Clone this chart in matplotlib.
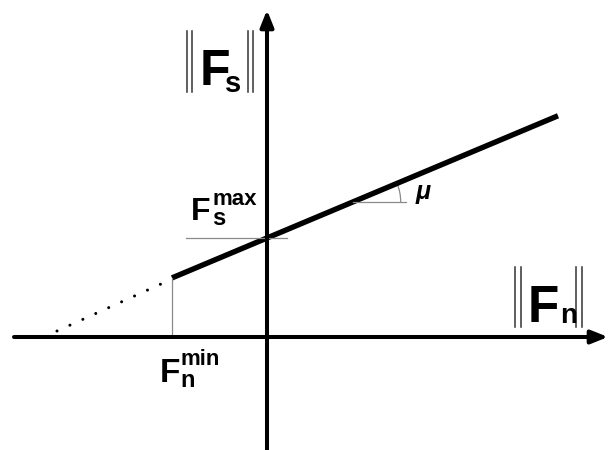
import numpy as np
import matplotlib.pyplot as plt
from matplotlib.patches import Arc

plt.rcParams['font.family'] = ['Liberation Sans', 'DejaVu Sans']
plt.rcParams['lines.scale_dashes'] = False

# friction law: |Fs| = Fs_max + mu * |Fn|, valid for |Fn| >= Fn_min
fs_max = 99
mu = 0.42
fn_min = -95
fn_end = 291
fn_line = [fn_min, fn_end]
fs_line = [fs_max + mu * v for v in fn_line]
# dotted continuation below Fn_min
fn_dots = [-210, -106]
fs_dots = [6, 53]

fig = plt.figure(figsize=(6.08, 4.5), dpi=100)
ax = fig.add_axes([0, 0, 1, 1])
ax.set_xlim(-267, 341)
ax.set_ylim(-113, 337)
ax.axis('off')

arrow = dict(arrowstyle='-|>,head_length=0.5,head_width=0.2', lw=2.9,
             color='black', mutation_scale=20, shrinkA=0, shrinkB=0)
ax.annotate('', xy=(341, 0), xytext=(-253, 0), arrowprops=arrow)
ax.annotate('', xy=(0, 327), xytext=(0, -113), arrowprops=arrow)

ax.plot(fn_line, fs_line, color='black', lw=3.9, solid_capstyle='butt')
ax.plot(fn_dots, fs_dots, color='black', lw=2.2,
        linestyle=(0, (0.01, 10.2)), dash_capstyle='round')

# guide lines
gray = '#8a8a8a'
ax.plot([fn_min, fn_min], [0, fs_line[0]], color=gray, lw=0.9)
ax.plot([-81, 20], [fs_max, fs_max], color=gray, lw=0.9)

# angle mu
fx = (135 - fs_max) / mu
ax.plot([fx, fx + 53], [135, 135], color=gray, lw=0.9)
ang = np.degrees(np.arctan(mu))
ax.add_patch(Arc((fx, 135), 96, 96, theta1=0, theta2=ang, color=gray, lw=0.9))
ax.text(149, 138, 'μ', fontsize=18, fontweight='bold', fontstyle='italic',
        ha='left', va='baseline')

bold = dict(fontweight='bold', ha='left', va='baseline')

# ||Fs|| label
ax.text(-67, 252, 'F', fontsize=36, **bold)
ax.text(-42, 245, 's', fontsize=21, **bold)
for xb in (-80, -75, -19, -14):
    ax.plot([xb, xb], [245, 306], color='#333333', lw=1.1)

# ||Fn|| label
ax.text(261, 15, 'F', fontsize=37, **bold)
ax.text(293, 14, 'n', fontsize=20, **bold)
for xb in (248, 254, 309, 315):
    ax.plot([xb, xb], [10, 70], color='#333333', lw=1.1)

# Fs max / Fn min
ax.text(-76, 117, 'F', fontsize=23, **bold)
ax.text(-55, 132, 'max', fontsize=16, **bold)
ax.text(-55, 112, 's', fontsize=17, **bold)
ax.text(-107, -45, 'F', fontsize=24, **bold)
ax.text(-87, -28, 'min', fontsize=16, **bold)
ax.text(-87, -50, 'n', fontsize=17, **bold)

fig.savefig('out.png', dpi=100)
